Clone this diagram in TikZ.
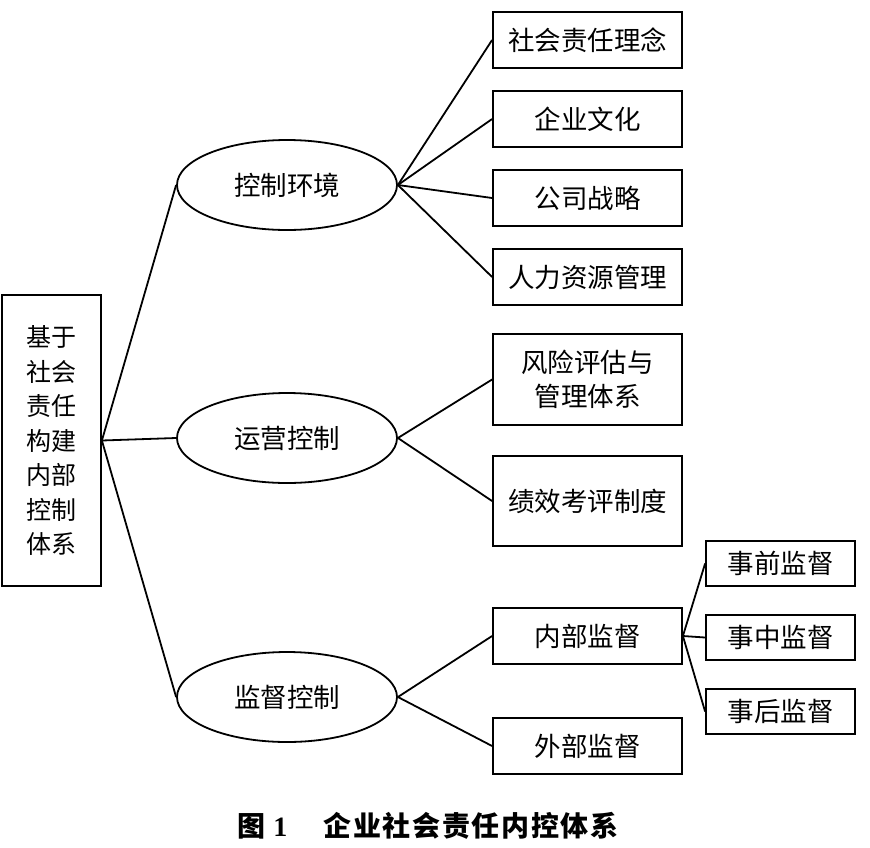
\documentclass[tikz,border=0pt]{standalone}
\usepackage{fontspec}
\setmainfont{Noto Sans CJK SC}
\newfontfamily\capfont{Noto Sans CJK SC}[LetterSpace=6]
\newfontfamily\numfont{Liberation Serif}
\usetikzlibrary{shapes.geometric,positioning}

\begin{document}
\begin{tikzpicture}[x=1pt,y=-1pt,font=\fontsize{26.5}{34.5}\selectfont,line width=1.8pt,inner sep=0pt,
    box/.style={draw,minimum width=189pt,minimum height=56pt,align=center},
    subbox/.style={draw,minimum width=149pt,minimum height=45pt},
    oval/.style={draw,ellipse,minimum width=220pt,minimum height=90pt}]
    \useasboundingbox (0,0) rectangle (870,847);

    \node[draw,minimum width=99pt,minimum height=291pt,align=center,font=\fontsize{25}{34.5}\selectfont] (root) at (51.5,440.5) {基于\\社会\\责任\\构建\\内部\\控制\\体系};

    \node[oval] (env) at (287,185) {控制环境};
    \node[oval] (ops) at (287,438) {运营控制};
    \node[oval] (sup) at (287,697) {监督控制};
    \foreach \n in {env,ops,sup}
        \draw (root.east) to (\n.west);

    \begin{scope}[node distance=79pt]
        \node[box] (idea) at (587.5,40) {社会责任理念};
        \node[box,below of=idea] (culture) {企业文化};
        \node[box,below of=culture] (strategy) {公司战略};
        \node[box,below of=strategy] (hr) {人力资源管理};
    \end{scope}
    \foreach \n in {idea,culture,strategy,hr}
        \draw (env.east) to (\n.west);

    \node[box,minimum height=91pt] (risk) at (587.5,379.5) {风险评估与\\管理体系};
    \node[box,minimum height=90pt] (perf) at (587.5,501) {绩效考评制度};
    \draw (ops.east) to (risk.west);
    \draw (ops.east) to (perf.west);

    \node[box] (inner) at (587.5,636) {内部监督};
    \node[box] (outer) at (587.5,746) {外部监督};
    \draw (sup.east) to (inner.west);
    \draw (sup.east) to (outer.west);

    \begin{scope}[node distance=74pt]
        \node[subbox] (before) at (780.5,563.5) {事前监督};
        \node[subbox,below of=before] (during) {事中监督};
        \node[subbox,below of=during] (after) {事后监督};
    \end{scope}
    \foreach \n in {before,during,after}
        \draw (inner.east) to (\n.west);

    \node[font=\fontsize{28}{30}\selectfont] (caption) at (428,826) {\capfont\bfseries 图\hspace{8pt}{\numfont\bfseries 1}\hspace{36pt}企业社会责任内控体系};
\end{tikzpicture}
\end{document}
